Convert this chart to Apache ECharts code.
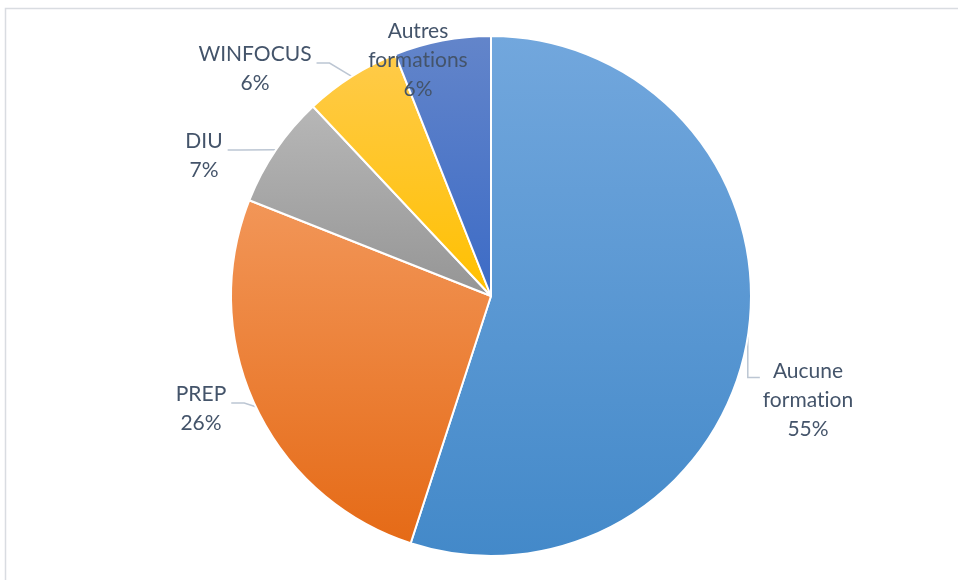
<!DOCTYPE html>
<html>
<head>
<meta charset="utf-8">
<script src="https://cdn.jsdelivr.net/npm/echarts@6/dist/echarts.min.js"></script>
<style>
  html, body { margin: 0; padding: 0; background: #fff; }
  #chart { width: 958px; height: 580px; }
</style>
</head>
<body>
<div id="chart"></div>
<script>
// données
var categories = ['Aucune\nformation', 'PREP', 'DIU', 'WINFOCUS', 'Autres\nformations'];
var values = [55, 26, 7, 6, 6];
var topColors = ['#72a7dd', '#f29658', '#b7b7b7', '#ffcb4a', '#6385ca'];
var bottomColors = ['#4389c9', '#e56a16', '#959595', '#ffc000', '#3c6bc6'];

// position des étiquettes (centre du texte)
var labelPos = [[808, 400], [201, 409], [204, 156], [255, 69], [418, 60]];

var chart = echarts.init(document.getElementById('chart'));

var pieData = [];
for (var i = 0; i < categories.length; i++) {
  pieData.push({
    name: categories[i],
    value: values[i],
    itemStyle: {
      color: new echarts.graphic.LinearGradient(0, 0, 0, 1, [
        { offset: 0, color: topColors[i] },
        { offset: 1, color: bottomColors[i] }
      ])
    },
    labelLine: { show: i != 4 }
  });
}

chart.setOption({
  animation: false,
  backgroundColor: '#fff',
  graphic: [{
    type: 'rect',
    shape: { x: 5.5, y: 8.5, width: 1000, height: 1000 },
    style: { fill: 'none', stroke: '#d9dce1', lineWidth: 1.5 },
    silent: true
  }],
  series: [{
    type: 'pie',
    center: [491, 296],
    radius: 260,
    startAngle: 90,
    clockwise: true,
    data: pieData,
    itemStyle: { borderColor: '#fff', borderWidth: 2 },
    label: {
      show: true,
      position: 'outside',
      formatter: function (p) {
        // évite la ligature "ti" de Lato
        return p.name.replace(/ti/g, 't\u200ci') + '\n' + p.percent + '%';
      },
      fontFamily: 'Lato',
      fontSize: 21,
      lineHeight: 29,
      color: '#44546a'
    },
    labelLine: {
      show: true,
      length: 10,
      length2: 10,
      lineStyle: { color: '#bcc6d3', width: 1.5 }
    },
    labelLayout: function (params) {
      var p = labelPos[params.dataIndex];
      var w = params.labelRect.width, h = params.labelRect.height;
      var res = { x: p[0], y: p[1], align: 'center', verticalAlign: 'middle' };
      var lp = params.labelLinePoints;
      if (lp && lp.length) {
        var s = lp[0];
        if (p[0] > 491) {
          // étiquette à droite : segment vertical puis horizontal
          var yy = p[1] - h / 2 + 21;
          res.labelLinePoints = [s, [s[0], yy], [p[0] - w / 2 - 3, yy]];
        } else {
          var y2 = p[1] - 6;
          var right = p[0] + w / 2;
          res.labelLinePoints = [s, [right + 18, y2], [right + 5, y2]];
        }
      }
      return res;
    }
  }]
});
</script>
</body>
</html>
